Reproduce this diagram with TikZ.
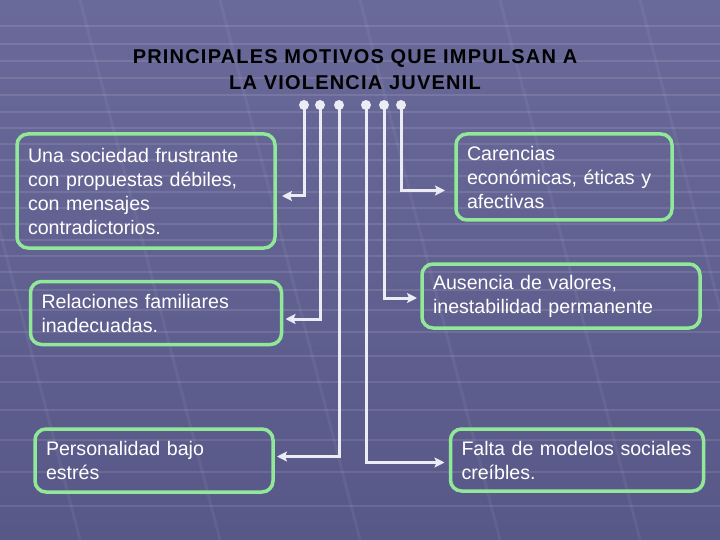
\documentclass[tikz,border=0pt]{standalone}
\usepackage{fontspec}
\setmainfont{Liberation Sans}
\newfontfamily\titlefont[LetterSpace=6]{Liberation Sans}
\usetikzlibrary{arrows.meta}

\definecolor{bgtop}{RGB}{106,106,154}
\definecolor{bgbot}{RGB}{88,88,136}
\definecolor{boxgreen}{RGB}{144,232,152}
\definecolor{linkgrey}{RGB}{236,236,244}

\begin{document}
\begin{tikzpicture}[x=1pt,y=-1pt,>={Stealth[length=10pt,width=10pt,inset=2pt]},
    motivo/.style={draw=boxgreen,line width=3.5pt,rounded corners=11pt,outer sep=0pt,
        inner xsep=11pt,inner ysep=0pt,align=left,text=white,
        font=\fontsize{19.6}{24}\selectfont},
    dot/.style={circle,fill=linkgrey,inner sep=0pt,minimum size=10pt},
    link/.style={draw=linkgrey,line width=3pt,->},
    stripe/.style={white,opacity=0.1,line width=2pt}]

    \clip (0,0) rectangle (720,540);
    \useasboundingbox (0,0) rectangle (720,540);

    % fondo
    \fill[top color=bgtop,bottom color=bgbot] (0,0) rectangle (720,540);
    \foreach \y in {26,44,61,78,95,112,128,144,160,176,192,208,224,240,256,272,290,310,332,356,382,410,440,472,506}
        \draw[stripe] (0,\y) -- (720,\y);
    \foreach \x in {-60,80,220,360,500,640}
        \draw[white,opacity=0.05,line width=3pt] (\x,0) -- (\x+140,540);

    % titulo
    \node[font=\titlefont\bfseries\fontsize{20}{26}\selectfont,align=center] (titulo) at (355,70)
        {PRINCIPALES MOTIVOS QUE IMPULSAN A\\LA VIOLENCIA JUVENIL};

    % puntos
    \node[dot] (d1) at (304,105) {};
    \node[dot] (d2) at (320,105) {};
    \node[dot] (d3) at (339,105) {};
    \node[dot] (d4) at (366,105) {};
    \node[dot] (d5) at (384,105) {};
    \node[dot] (d6) at (401,105) {};

    % cajas
    \node[motivo,minimum width=258pt,minimum height=114pt,text width=236pt] (sociedad) at (146,191)
        {Una sociedad frustrante\\con propuestas débiles,\\con mensajes\\contradictorios.};
    \node[motivo,minimum width=251pt,minimum height=63pt,text width=229pt] (familia) at (156,313)
        {Relaciones familiares\\inadecuadas.};
    \node[motivo,minimum width=238pt,minimum height=63pt,text width=216pt] (personalidad) at (154,460.5)
        {Personalidad bajo\\estrés};
    \node[motivo,minimum width=216pt,minimum height=86pt,text width=194pt] (carencias) at (564,177)
        {Carencias\\económicas, éticas y\\afectivas};
    \node[motivo,minimum width=278pt,minimum height=64pt,text width=256pt] (valores) at (561,296)
        {Ausencia de valores,\\inestabilidad permanente};
    \node[motivo,minimum width=253pt,minimum height=62pt,text width=231pt] (modelos) at (577,460)
        {Falta de modelos sociales\\creíbles.};

    % conectores
    \draw[link,shorten >=7pt] (d1.center) |- ([yshift=-5pt]sociedad.east);
    \draw[link,shorten >=4pt] (d2.center) |- ([yshift=-6pt]familia.east);
    \draw[link,shorten >=4pt] (d3.center) |- ([yshift=4pt]personalidad.east);
    \draw[link,shorten >=6pt] (d4.center) |- ([yshift=-2.5pt]modelos.west);
    \draw[link,shorten >=5pt] (d5.center) |- ([yshift=-2pt]valores.west);
    \draw[link,shorten >=11pt] (d6.center) |- ([yshift=-13.5pt]carencias.west);
\end{tikzpicture}
\end{document}
